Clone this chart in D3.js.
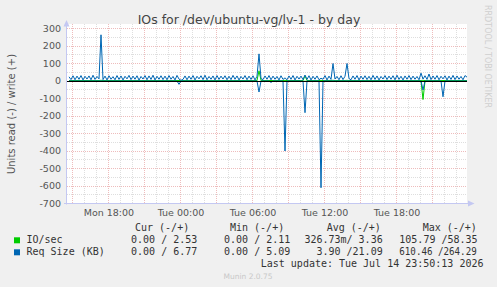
<!DOCTYPE html>
<html><head><meta charset="utf-8">
<script src="https://cdn.jsdelivr.net/npm/d3@7"></script>
<style>html,body{margin:0;padding:0;background:#f0f0f0;}svg{display:block;}</style>
</head><body><svg id="c" width="497" height="287"></svg>
<script>
// ---- data (10-minute samples, 200 points, ending Tue Jul 14 23:50) ----
const titleText = "IOs for /dev/ubuntu-vg/lv-1 - by day";
const yTicks = [300, 200, 100, 0, -100, -200, -300, -400, -500, -600, -700];
const xTickLabels = ["Mon 18:00", "Tue 00:00", "Tue 06:00", "Tue 12:00", "Tue 18:00"];
const seriesNames = ["IO/sec", "Req Size (KB)"];
const legendCur = ["0.00 / 2.53", "0.00 / 6.77"];
const legendMin = ["0.00 / 2.11", "0.00 / 5.09"];
const legendAvg = ["326.73m/ 3.36", "3.90 /21.09"];
const legendMax = ["105.79 /58.35", "610.46 /264.29"];
const lastUpdate = "Last update: Tue Jul 14 23:50:13 2026";

// Req Size write (+)
const reqWrite = [
24,8,30,7,28,10,31,6,27,11,29,7,33,9,26,12,264,8,28,6,
30,10,25,7,31,9,29,6,27,12,32,8,28,10,30,5,26,11,31,7,
29,9,33,6,27,10,30,8,28,7,31,10,26,6,32,11,4,9,29,7,
28,10,31,6,27,12,30,8,33,7,26,10,29,6,31,9,28,11,30,7,
27,8,32,10,29,6,26,11,31,7,28,9,30,6,27,155,14,8,29,10,
31,7,28,10,26,6,30,9,18,7,29,10,31,6,27,11,28,8,34,9,
30,6,27,10,29,7,16,10,31,6,28,9,100,11,26,7,30,8,27,100,
14,7,29,10,31,6,28,10,30,8,27,7,32,9,29,6,26,11,31,8,
28,10,30,7,33,9,27,6,29,10,31,8,28,10,26,7,45,11,30,9,
40,8,29,10,31,7,27,12,30,6,28,9,32,8,29,10,26,7,31,22
];
// Req Size read (-)
const reqRead = [
0,0,0,0,0,0,0,0,0,0,0,0,0,0,0,0,0,0,0,0,
0,0,0,0,0,0,0,0,0,0,0,0,0,0,0,0,0,0,0,0,
0,0,0,0,0,0,0,0,0,0,0,0,0,0,0,19,0,0,0,0,
0,0,0,0,0,0,0,0,0,0,0,0,0,0,0,0,0,0,0,0,
0,0,0,0,0,0,0,0,0,0,0,0,0,0,0,63,0,0,0,0,
0,8,0,0,0,0,0,0,400,0,0,0,0,0,0,0,0,0,181,0,
0,0,0,0,0,0,610,0,0,0,0,0,0,0,0,0,0,0,0,0,
0,0,0,0,0,0,0,0,0,0,0,0,0,0,0,0,0,0,0,0,
0,0,0,0,0,0,0,0,0,0,0,0,0,0,0,0,0,51,0,0,
0,0,0,0,0,0,0,90,0,0,0,0,0,0,0,0,0,0,0,0
];
// IO/sec write (+)
const ioWrite = [
2.6,2.4,3.1,2.2,2.8,3.4,2.5,2.3,2.9,3.0,2.4,2.7,3.2,2.2,2.6,2.9,4.1,2.5,2.8,2.3,
3.0,2.6,2.4,3.3,2.7,2.2,2.9,3.1,2.5,2.4,2.8,3.0,2.3,2.7,3.2,2.6,2.4,2.9,2.5,3.1,
2.7,2.3,3.0,2.8,2.4,2.6,3.3,2.5,2.2,2.9,3.1,2.7,2.4,2.6,3.0,2.8,2.3,2.5,3.2,2.7,
2.4,2.9,3.1,2.6,2.3,2.8,3.0,2.5,2.7,3.3,2.4,2.6,2.9,2.2,3.1,2.8,2.5,2.7,3.0,2.4,
2.6,3.2,2.3,2.8,2.9,2.5,2.7,3.1,2.4,2.6,3.0,2.8,2.3,2.5,3.4,58.35,4.2,2.7,2.9,2.4,
3.1,2.6,2.8,2.3,3.0,2.7,2.5,2.9,3.6,2.4,2.6,3.2,2.8,2.5,2.7,3.0,2.4,2.9,30,3.1,
2.6,2.8,2.3,3.0,2.7,2.5,3.5,2.4,2.9,2.6,3.1,2.8,4.0,2.5,2.7,3.0,2.3,2.6,2.9,3.8,
2.7,2.4,3.1,2.8,2.5,2.9,2.6,3.0,2.3,2.7,3.2,2.5,2.8,2.4,3.0,2.6,2.9,2.7,2.3,3.1,
2.8,2.5,2.7,3.0,2.4,2.9,2.6,3.2,2.5,2.8,2.3,3.1,2.7,2.4,2.9,2.6,3.0,3.9,2.5,2.8,
3.3,2.6,2.4,2.9,2.7,3.1,2.5,2.8,2.6,3.0,2.4,2.7,2.9,2.5,3.2,2.6,2.8,2.4,2.7,2.53
];
// IO/sec read (-)
const ioRead = [
0,0,0,0,0,0,0,0,0,0,0,0,0,0,0,0,0,0,0,0,
0,0,0,0,0,0,0,0,0,0,0,0,0,0,0,0,0,0,0,0,
0,0,0,0,0,0,0,0,0,0,0,0,0,0,0,1.2,0,0,0,0,
0,0,0,0,0,0,0,0,0,0,0,0,0,0,0,0,0,0,0,0,
0,0,0,0,0,0,0,0,0,0,0,0,0,0,0,3.5,0,0,0,0,
0,0.6,0,0,0,0,0,0,2.8,0,0,0,0,0,0,0,0,0,1.9,0,
0,0,0,0,0,0,3.1,0,0,0,0,0,0,0,0,0,0,0,0,0,
0,0,0,0,0,0,0,0,0,0,0,0,0,0,0,0,0,0,0,0,
0,0,0,0,0,0,0,0,0,0,0,0,0,0,0,0,0,105.79,0,0,
0,0,0,0,0,0,0,4.2,0,0,0,0,0,0,0,0,0,0,0,0
];

// ---- layout ----
const svg = d3.select("#c");
const L = 67, R = 467, T = 24, B = 203.5;
const endT = Date.UTC(2026, 6, 14, 23, 50, 13);
const startT = endT - 400 * 300 * 1000;
const step = 600 * 1000;
const times = reqWrite.map((_, i) => startT + (i + 1) * step);

const x = d3.scaleUtc().domain([startT, endT]).range([L, R]);
const y = d3.scaleLinear().domain([-700, 300]).range([203.5, 28.5]);
const snap = v => Math.floor(v) + 0.5;

svg.append("rect").attr("width", 497).attr("height", 287).attr("fill", "#f0f0f0");
svg.append("rect").attr("x", L).attr("y", T).attr("width", R - L).attr("height", B - T).attr("fill", "#ffffff");

const g = svg.append("g");
const minorCol = "#dedede", majorCol = "#eebcbc";
// minor horizontal grid (every 50)
const minorY = d3.range(-650, 300, 100);
g.selectAll(".hmin").data(minorY).join("line")
  .attr("x1", L).attr("x2", R).attr("y1", d => snap(y(d))).attr("y2", d => snap(y(d)))
  .attr("stroke", minorCol).attr("stroke-dasharray", "1,1");
// minor vertical grid (hourly)
const hours = d3.utcHour.range(new Date(startT), new Date(endT));
g.selectAll(".vmin").data(hours.filter(h => h.getUTCHours() % 3 !== 0)).join("line")
  .attr("x1", d => snap(x(d))).attr("x2", d => snap(x(d))).attr("y1", T).attr("y2", B)
  .attr("stroke", minorCol).attr("stroke-dasharray", "1,1");
// major grids
g.selectAll(".hmaj").data(yTicks).join("line")
  .attr("x1", L).attr("x2", R).attr("y1", d => snap(y(d))).attr("y2", d => snap(y(d)))
  .attr("stroke", majorCol).attr("stroke-dasharray", "1,1");
g.selectAll(".vmaj").data(hours.filter(h => h.getUTCHours() % 3 === 0)).join("line")
  .attr("x1", d => snap(x(d))).attr("x2", d => snap(x(d))).attr("y1", T).attr("y2", B)
  .attr("stroke", majorCol).attr("stroke-dasharray", "1,1");

// y tick labels
svg.selectAll(".yl").data(yTicks).join("text")
  .attr("x", 61).attr("y", d => y(d) + 3.3).attr("text-anchor", "end")
  .attr("font-family", "DejaVu Sans").attr("font-size", 9.5).attr("fill", "#555")
  .text(d => d);
// x tick labels
const xTicks = d3.utcHour.every(6).range(new Date(startT), new Date(endT));
svg.selectAll(".xl").data(xTicks).join("text")
  .attr("x", d => x(d)).attr("y", 216).attr("text-anchor", "middle")
  .attr("font-family", "DejaVu Sans").attr("font-size", 9.5).attr("fill", "#555")
  .text((d, i) => xTickLabels[i]);

// axes
const axisCol = "#c4c8f2";
svg.append("line").attr("x1", 66.5).attr("x2", 66.5).attr("y1", B + 1).attr("y2", 24).attr("stroke", axisCol);
svg.append("path").attr("d", "M63.5,26.5L69.5,26.5L66.5,20Z").attr("fill", axisCol);
svg.append("line").attr("x1", 64).attr("x2", 470).attr("y1", B).attr("y2", B).attr("stroke", axisCol);
svg.append("path").attr("d", "M468,200.5L468,206.5L474.5,203.5Z").attr("fill", axisCol);

// series lines
const line = d3.line().x((d, i) => x(times[i])).y(d => y(d));
const green = "#00cc00", blue = "#0066b3";
svg.append("path").attr("d", line(ioWrite)).attr("fill", "none").attr("stroke", green).attr("stroke-width", 1);
svg.append("path").attr("d", line(ioRead.map(v => -v))).attr("fill", "none").attr("stroke", green).attr("stroke-width", 1);
svg.append("path").attr("d", line(reqWrite)).attr("fill", "none").attr("stroke", blue).attr("stroke-width", 1);
svg.append("path").attr("d", line(reqRead.map(v => -v))).attr("fill", "none").attr("stroke", blue).attr("stroke-width", 1);
svg.append("line").attr("x1", L).attr("x2", R).attr("y1", snap(y(0))).attr("y2", snap(y(0))).attr("stroke", "#000");

// title
svg.append("text").attr("x", 249).attr("y", 24).attr("text-anchor", "middle")
  .attr("font-family", "DejaVu Sans").attr("font-size", 12.5).attr("fill", "#444").text(titleText);
// y label
svg.append("text").attr("transform", "translate(14.5,114) rotate(-90)").attr("text-anchor", "middle")
  .attr("font-family", "DejaVu Sans").attr("font-size", 10).attr("fill", "#555").text("Units read (-) / write (+)");
// watermark
svg.append("text").attr("transform", "translate(484.5,5) rotate(90)").attr("text-anchor", "start")
  .attr("font-family", "DejaVu Sans").attr("font-size", 8).attr("fill", "#cfcfcf").text("RRDTOOL / TOBI OETIKER");

// legend
const mono = "DejaVu Sans Mono", fs = 10, lc = "#333";
const hdr = [["Cur (-/+)", 135], ["Min (-/+)", 230], ["Avg (-/+)", 326.7], ["Max (-/+)", 422.7]];
hdr.forEach(h => svg.append("text").attr("x", h[1]).attr("y", 230.7).attr("font-family", mono).attr("font-size", fs).attr("fill", lc).text(h[0]));
const rowsY = [243.3, 255.3];
const cols = [green, blue];
seriesNames.forEach((n, i) => {
  svg.append("rect").attr("x", 14).attr("y", rowsY[i] - 6).attr("width", 6).attr("height", 6).attr("fill", cols[i]);
  svg.append("text").attr("x", 26.5).attr("y", rowsY[i]).attr("font-family", mono).attr("font-size", fs).attr("fill", lc).text(n);
  svg.append("text").attr("x", 197.3).attr("y", rowsY[i]).attr("text-anchor", "end").attr("font-family", mono).attr("font-size", fs).attr("fill", lc).text(legendCur[i]);
  svg.append("text").attr("x", 290.3).attr("y", rowsY[i]).attr("text-anchor", "end").attr("font-family", mono).attr("font-size", fs).attr("fill", lc).text(legendMin[i]);
  svg.append("text").attr("x", 382.7).attr("y", rowsY[i]).attr("text-anchor", "end").attr("font-family", mono).attr("font-size", fs).attr("fill", lc).text(legendAvg[i]);
  // Max column: right edge shared by both rows; a long value is squeezed into the column width
  const mt = svg.append("text").attr("x", 399.3).attr("y", rowsY[i]).attr("font-family", mono).attr("font-size", fs).attr("fill", lc).text(legendMax[i]);
  if (legendMax[i].length > 13) mt.attr("textLength", 77.4).attr("lengthAdjust", "spacingAndGlyphs");
});
svg.append("text").attr("x", 483.5).attr("y", 267).attr("text-anchor", "end").attr("font-family", mono).attr("font-size", fs).attr("fill", lc).text(lastUpdate);
svg.append("text").attr("x", 248).attr("y", 278.5).attr("text-anchor", "middle").attr("font-family", "DejaVu Sans").attr("font-size", 7.5).attr("fill", "#c8c8c8").text("Munin 2.0.75");
</script></body></html>
